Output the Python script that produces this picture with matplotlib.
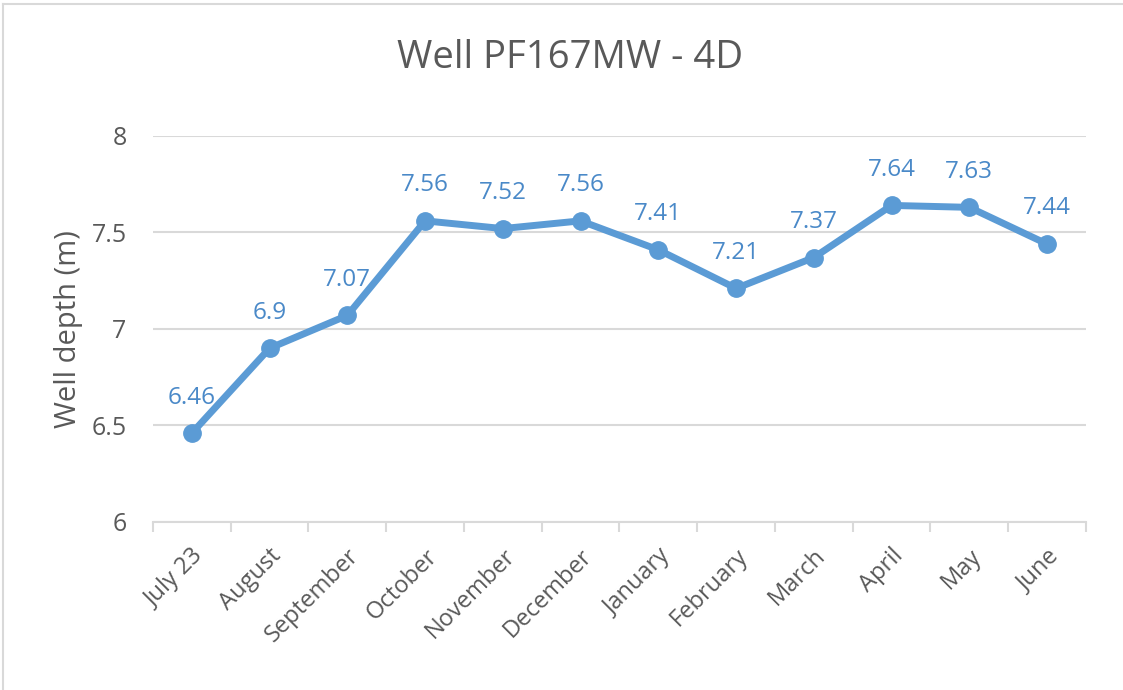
import matplotlib.pyplot as plt
from matplotlib.lines import Line2D

months = ['July 23', 'August', 'September', 'October', 'November', 'December',
          'January', 'February', 'March', 'April', 'May', 'June']
depth = [6.46, 6.9, 7.07, 7.56, 7.52, 7.56, 7.41, 7.21, 7.37, 7.64, 7.63, 7.44]
yticks = [6, 6.5, 7, 7.5, 8]

plt.rcParams['font.family'] = ['Open Sans', 'DejaVu Sans']

fig = plt.figure(figsize=(11.23, 6.9), dpi=100)
ax = fig.add_axes([0.1362, 0.2435, 0.967 - 0.1362, 0.803 - 0.2435])

x = list(range(len(months)))
ax.plot(x, depth, color='#5B9BD5', lw=5, marker='o', ms=12.5, solid_capstyle='round', zorder=3)
for i, v in zip(x, depth):
    ax.annotate(f'{v:g}', (i, v), xytext=(0, 17), textcoords='offset points',
                ha='center', va='bottom', color='#4A89C8', fontsize=17.5)

ax.set_xlim(-0.5, len(months) - 0.5)
ax.set_ylim(6, 8)
ax.set_yticks(yticks)
ax.set_yticklabels([f'{t:g}' for t in yticks])
ax.set_xticks([i - 0.5 for i in range(len(months) + 1)], minor=False)
ax.set_xticklabels([])
ax.set_xticks(x, minor=True)
ax.set_xticklabels(months, minor=True, rotation=45, ha='right', rotation_mode='anchor')
ax.tick_params(axis='x', which='minor', length=0, pad=16, labelsize=17, labelcolor='#595959')
ax.tick_params(axis='x', which='major', length=7, color='#D9D9D9', width=1.5)
ax.tick_params(axis='y', length=0, pad=19, labelsize=18, labelcolor='#595959')

ax.grid(axis='y', color='#D9D9D9', lw=1.5)
ax.set_axisbelow(True)
for s in ['top', 'right', 'left']:
    ax.spines[s].set_visible(False)
ax.spines['bottom'].set_color('#D9D9D9')
ax.spines['bottom'].set_linewidth(1.5)

ax.set_ylabel('Well depth (m)', fontsize=21, color='#595959', labelpad=6)
fig.text(0.508, 0.916, 'Well PF167MW - 4D', fontsize=27.5, color='#595959', ha='center', va='center')

fig.add_artist(Line2D([0.003, 1], [0.994, 0.994], color='#D9D9D9', lw=1.5))
fig.add_artist(Line2D([0.003, 0.003], [0, 0.994], color='#D9D9D9', lw=1.5))

fig.savefig('out.png', dpi=100)
